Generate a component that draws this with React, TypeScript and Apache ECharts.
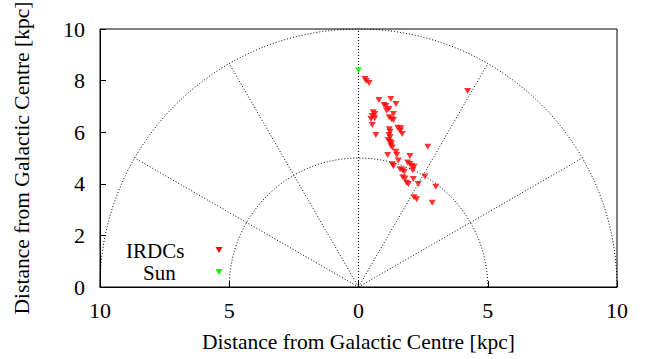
import React, { useEffect, useRef } from "react";
import * as echarts from "echarts";

const xRange = [-10, 10];
const yRange = [0, 10];
const xInterval = 5;
const yInterval = 2;

const irdcX = [
  0.25, 0.31, 0.41, 4.22, 0.79, 1.25, 1.45, 0.99, 1.06, 1.18, 1.09, 0.57, 0.63, 0.53, 0.63, 0.48,
  1.35, 1.19, 1.28, 1.35, 0.53, 1.52, 1.64, 1.61, 1.69, 1.19, 1.22, 1.18, 1.22, 1.15, 1.22, 1.28,
  1.25, 1.31, 0.67, 2.68, 1.45, 1.48, 1.13, 1.99, 1.54, 1.9, 1.99, 2.06, 2.15, 2.1, 1.31, 1.35,
  1.61, 1.71, 1.77, 2.57, 1.71, 1.8, 2.12, 1.86, 1.93, 2.31, 2.99, 2.15, 2.25, 2.85,
];
const irdcY = [
  8.06, 7.98, 7.91, 7.6, 7.25, 7.29, 7.09, 7.05, 7.02, 6.9, 6.83, 6.77, 6.71, 6.63, 6.54, 6.51,
  6.71, 6.58, 6.5, 6.47, 6.28, 6.17, 6.15, 6.06, 5.93, 6.11, 6.02, 5.89, 5.8, 5.7, 5.63, 5.57,
  5.47, 5.41, 5.89, 5.44, 5.24, 5.12, 5.12, 5.08, 4.9, 4.83, 4.77, 4.69, 4.66, 4.53, 4.76, 4.69,
  4.56, 4.53, 4.47, 4.28, 4.25, 4.21, 4.19, 4.04, 3.99, 3.99, 3.89, 3.48, 3.4, 3.27,
];
const sunX = [0];
const sunY = [8.4];

const ringRadii = [5, 10];
const spokeAngles = [30, 60, 90, 120, 150];
const spokeLength = 10;

const seriesNames = ["IRDCs", "Sun"];
const seriesColors = ["#ff0000", "#00ff00"];
const axisTitle = "Distance from Galactic Centre [kpc]";

const FONT = "'Liberation Serif', 'Times New Roman', serif";
const FS = 22;
const NAME_FS = 21.5;
const LEGEND_FS = 21;

function ringPoints(r: number): number[][] {
  const pts: number[][] = [];
  for (let a = 0; a <= 180; a += 1) {
    const t = (a * Math.PI) / 180;
    pts.push([r * Math.cos(t), r * Math.sin(t)]);
  }
  return pts;
}

function spokePoints(deg: number): number[][] {
  const t = (deg * Math.PI) / 180;
  return [
    [0, 0],
    [spokeLength * Math.cos(t), spokeLength * Math.sin(t)],
  ];
}

const guideStyle = { color: "#000", width: 1, type: [1, 2] as number[] };

export default function App() {
  const ref = useRef<HTMLDivElement>(null);
  useEffect(() => {
    if (!ref.current) return;
    document.body.style.margin = "0";
    const chart = echarts.init(ref.current, null, { renderer: "svg" });
    const guides: any[] = [];
    ringRadii.forEach((r) =>
      guides.push({
        type: "line",
        data: ringPoints(r),
        symbol: "none",
        silent: true,
        lineStyle: guideStyle,
        z: 1,
      })
    );
    spokeAngles.forEach((d) =>
      guides.push({
        type: "line",
        data: spokePoints(d),
        symbol: "none",
        silent: true,
        lineStyle: guideStyle,
        z: 1,
      })
    );
    const tri = (cx: number, cy: number, color: string) => ({
      type: "polygon",
      shape: { points: [[cx - 3.5, cy - 3], [cx + 3.5, cy - 3], [cx, cy + 3]] },
      style: { fill: color },
    });
    chart.setOption({
      animation: false,
      grid: {
        left: 100,
        right: 39,
        top: 29,
        bottom: 72,
        show: true,
        borderColor: "#000",
        borderWidth: 1,
        containLabel: false,
        outerBoundsMode: "none",
      },
      xAxis: {
        type: "value",
        min: xRange[0],
        max: xRange[1],
        interval: xInterval,
        name: axisTitle,
        nameLocation: "middle",
        nameGap: 44,
        nameTextStyle: { fontFamily: FONT, fontSize: NAME_FS, color: "#000" },
        axisLine: { show: true, onZero: false, lineStyle: { color: "#000" } },
        axisTick: { show: true, inside: true, length: 6, lineStyle: { color: "#000" } },
        axisLabel: {
          fontFamily: FONT,
          fontSize: FS,
          color: "#000",
          margin: 12,
          formatter: (v: number) => String(Math.abs(v)),
        },
        splitLine: { show: false },
      },
      yAxis: {
        type: "value",
        min: yRange[0],
        max: yRange[1],
        interval: yInterval,
        name: axisTitle,
        nameLocation: "middle",
        nameGap: 67,
        nameTextStyle: { fontFamily: FONT, fontSize: NAME_FS, color: "#000" },
        axisLine: { show: true, onZero: false, lineStyle: { color: "#000" } },
        axisTick: { show: true, inside: true, length: 6, lineStyle: { color: "#000" } },
        axisLabel: { fontFamily: FONT, fontSize: FS, color: "#000", margin: 15 },
        splitLine: { show: false },
      },
      series: [
        ...guides,
        {
          name: seriesNames[0],
          type: "scatter",
          data: irdcX.map((x, i) => [x, irdcY[i]]),
          symbol: "triangle",
          symbolRotate: 180,
          symbolSize: [7, 6],
          itemStyle: { color: seriesColors[0] },
          z: 3,
        },
        {
          name: seriesNames[1],
          type: "scatter",
          data: sunX.map((x, i) => [x, sunY[i]]),
          symbol: "triangle",
          symbolRotate: 180,
          symbolSize: [7, 6],
          itemStyle: { color: seriesColors[1] },
          z: 3,
        },
      ],
      graphic: [
        {
          type: "text",
          left: 126,
          top: 240,
          style: { text: seriesNames[0], font: `${LEGEND_FS}px ${FONT}`, fill: "#000" },
        },
        {
          type: "text",
          left: 143,
          top: 262,
          style: { text: seriesNames[1], font: `${LEGEND_FS}px ${FONT}`, fill: "#000" },
        },
        tri(219, 250, seriesColors[0]),
        tri(219, 272, seriesColors[1]),
      ],
    });
    return () => chart.dispose();
  }, []);
  return <div ref={ref} style={{ width: 656, height: 359 }} />;
}
